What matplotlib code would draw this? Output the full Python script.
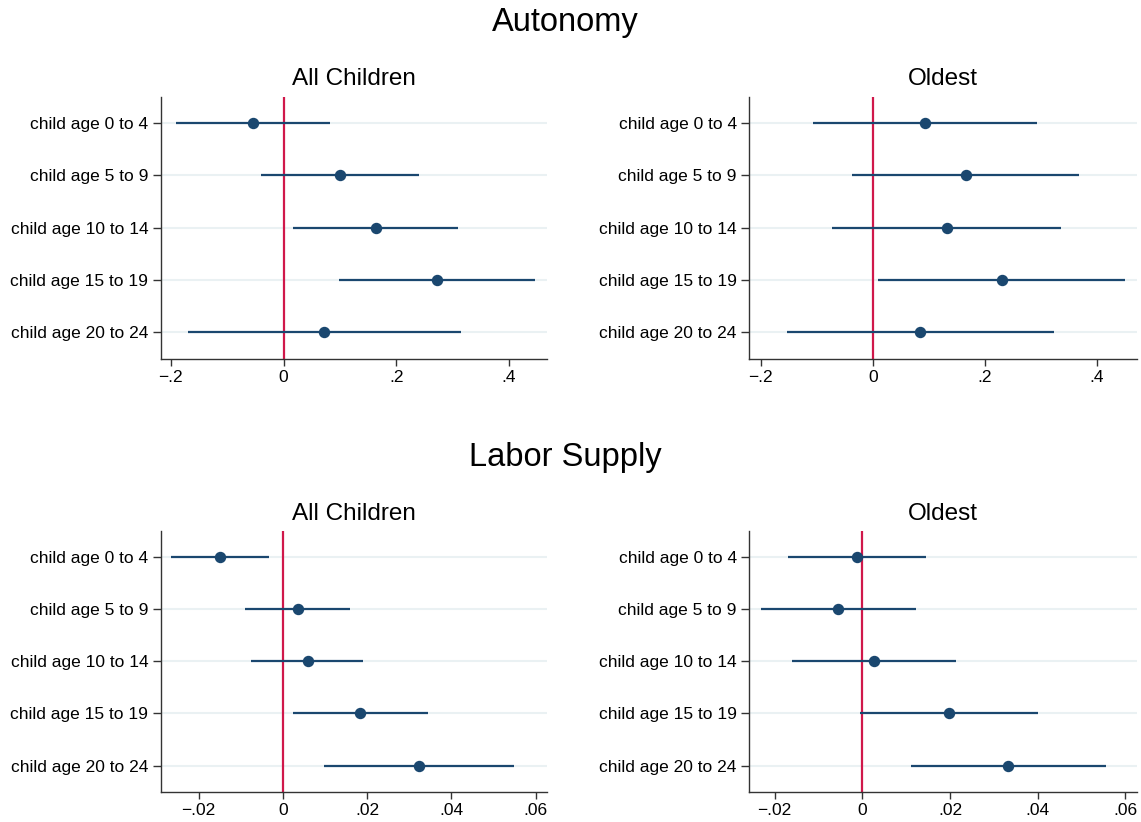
import matplotlib
matplotlib.use("Agg")
import matplotlib.pyplot as plt
import numpy as np

plt.rcParams['font.family'] = ['Liberation Sans', 'DejaVu Sans']

labels = ["child age 0 to 4", "child age 5 to 9", "child age 10 to 14",
          "child age 15 to 19", "child age 20 to 24"]

# Autonomy - All Children
aut_all_est = [-0.054, 0.100, 0.164, 0.272, 0.072]
aut_all_lo = [-0.191, -0.040, 0.017, 0.098, -0.170]
aut_all_hi = [0.083, 0.240, 0.310, 0.447, 0.315]
# Autonomy - Oldest
aut_old_est = [0.093, 0.166, 0.132, 0.230, 0.084]
aut_old_lo = [-0.107, -0.037, -0.072, 0.0095, -0.153]
aut_old_hi = [0.292, 0.368, 0.335, 0.450, 0.323]
# Labor supply - All Children
lab_all_est = [-0.0150, 0.0036, 0.0059, 0.0184, 0.0322]
lab_all_lo = [-0.0265, -0.0089, -0.0076, 0.0024, 0.0097]
lab_all_hi = [-0.0034, 0.0160, 0.0191, 0.0345, 0.0548]
# Labor supply - Oldest
lab_old_est = [-0.0012, -0.0055, 0.0026, 0.0197, 0.0333]
lab_old_lo = [-0.0169, -0.0232, -0.0161, -0.0005, 0.0111]
lab_old_hi = [0.0145, 0.0123, 0.0213, 0.0401, 0.0555]

top_ticks = [-0.2, 0, 0.2, 0.4]
top_ticklabels = ["\u2212.2", "0", ".2", ".4"]
bot_ticks = [-0.02, 0, 0.02, 0.04, 0.06]
bot_ticklabels = ["\u2212.02", "0", ".02", ".04", ".06"]

NAVY = "#1a476f"
RED = "#d0184a"
GRID = "#eaf1f3"

W, H = 1141, 822
fig = plt.figure(figsize=(W / 100, H / 100), dpi=100)


def px_axes(l, t, r, b):
    return fig.add_axes([l / W, 1 - b / H, (r - l) / W, (b - t) / H])


panels = [
    (px_axes(160.7, 96.7, 546.7, 358.7), aut_all_est, aut_all_lo, aut_all_hi,
     (-0.218, 0.467), top_ticks, top_ticklabels, "All Children"),
    (px_axes(749.3, 96.7, 1136.7, 358.7), aut_old_est, aut_old_lo, aut_old_hi,
     (-0.22, 0.4706), top_ticks, top_ticklabels, "Oldest"),
    (px_axes(160.7, 531, 546.7, 791.7), lab_all_est, lab_all_lo, lab_all_hi,
     (-0.029, 0.0626), bot_ticks, bot_ticklabels, "All Children"),
    (px_axes(749.3, 531, 1136.7, 791.7), lab_old_est, lab_old_lo, lab_old_hi,
     (-0.0258, 0.0626), bot_ticks, bot_ticklabels, "Oldest"),
]

ypos = np.arange(1, len(labels) + 1)
for ax, est, lo, hi, xl, ticks, tlabels, title in panels:
    for y in ypos:
        ax.axhline(y, color=GRID, lw=1.5, zorder=0)
    ax.axvline(0, color=RED, lw=1.6, zorder=1)
    ax.hlines(ypos, lo, hi, color=NAVY, lw=1.6, zorder=2)
    ax.plot(est, ypos, 'o', color=NAVY, ms=7.2, zorder=3)
    ax.set_xlim(*xl)
    ax.set_ylim(5.5, 0.5)
    ax.set_yticks(ypos)
    ax.set_yticklabels(labels, fontsize=12.5)
    ax.set_xticks(ticks)
    ax.set_xticklabels(tlabels, fontsize=12.5)
    for s in ("top", "right"):
        ax.spines[s].set_visible(False)
    for s in ("left", "bottom"):
        ax.spines[s].set_color("#333333")
        ax.spines[s].set_linewidth(1.0)
    ax.tick_params(axis='y', length=6, width=1, color="#333333", pad=3)
    ax.tick_params(axis='x', length=5, width=1, color="#333333", pad=3)
    ax.annotate(title, xy=(0.5, 1), xycoords='axes fraction', xytext=(0, 12.5),
                textcoords='offset points', ha='center', va='center', fontsize=17.5)

fig.text(565 / W, 1 - 22 / H, "Autonomy", ha='center', va='center', fontsize=23.5)
fig.text(565 / W, 1 - 457 / H, "Labor Supply", ha='center', va='center', fontsize=23.5)

fig.savefig("out.png", dpi=100, facecolor="white")
